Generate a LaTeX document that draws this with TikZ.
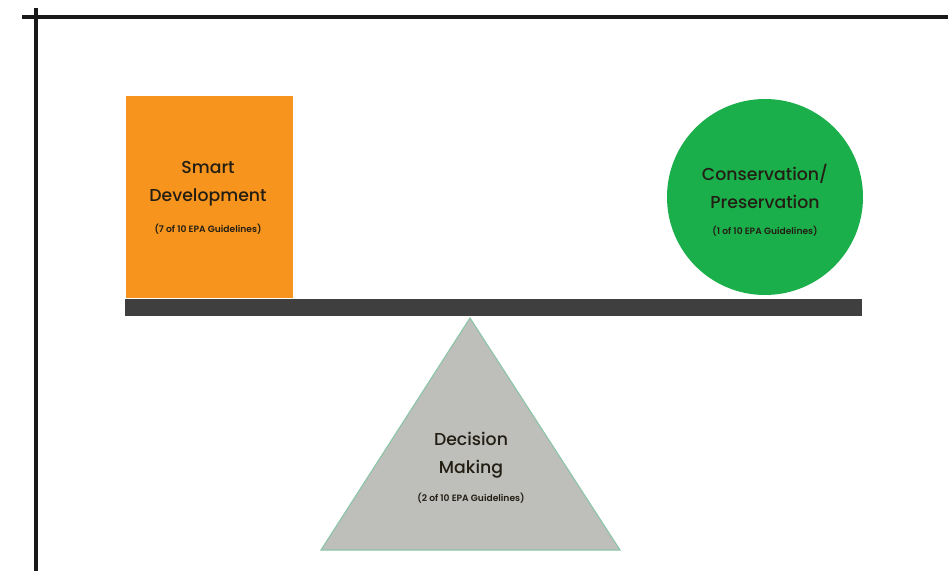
\documentclass[tikz,border=0pt]{standalone}
\usepackage{fontspec}
\setmainfont{Poppins}
\newfontfamily\medfont{Poppins Medium}
\newfontfamily\semifont{Poppins SemiBold}
\usetikzlibrary{positioning, calc}

\definecolor{sdorange}{HTML}{F7941D}
\definecolor{cpgreen}{HTML}{1BAF4B}
\definecolor{beamgray}{HTML}{3F3F3F}
\definecolor{dmgray}{HTML}{BEBEBA}
\definecolor{dmedge}{HTML}{8CC5A8}
\definecolor{txtdark}{HTML}{231E14}

\tikzset{
	title/.style={font=\medfont\fontsize{12.3}{20}\selectfont, text=txtdark, align=center},
	small/.style={font=\semifont\fontsize{6.5}{8}\selectfont, text=txtdark}
}

\begin{document}
\begin{tikzpicture}[x=0.025cm, y=-0.025cm]
			\useasboundingbox (0,0) rectangle (948,571);
			
			% frame lines
			\draw[line width=2.2pt, black!90] (22,17) -- (948,17);
			\draw[line width=2.2pt, black!90] (36,8) -- (36,571);
			
			\node[rectangle, fill=sdorange, minimum width=167*0.025cm, minimum height=202*0.025cm, inner sep=0] (smartdev) at (209.5,197) {};
			\node[title] (sdtitle) at (208,184) {Smart\\Development};
			\node[small, below=0.55em of sdtitle] (sdsub) {(7 of 10 EPA Guidelines)};
			
			\node[circle, fill=cpgreen, minimum size=196*0.025cm, inner sep=0] (conserv) at (765,197) {};
			\node[title] (cptitle) at (765,186) {Conservation/\\Preservation};
			\node[small, below=0.55em of cptitle] (cpsub) {(1 of 10 EPA Guidelines)};
			
			\node[rectangle, fill=beamgray, minimum width=737*0.025cm, minimum height=17*0.025cm, inner sep=0] (beam) at (493.5,307.5) {};
			
			\coordinate (apex) at (470,318);
			\coordinate (baseL) at (321,550);
			\coordinate (baseR) at (620,550);
			\draw[fill=dmgray, draw=dmedge, line width=0.8pt] (apex) -- (baseR) -- (baseL) -- cycle;
			\node[title] (dmtitle) at (471,455) {Decision\\Making};
			\node[small, below=0.35em of dmtitle] (dmsub) {(2 of 10 EPA Guidelines)};
		\end{tikzpicture}
\end{document}
